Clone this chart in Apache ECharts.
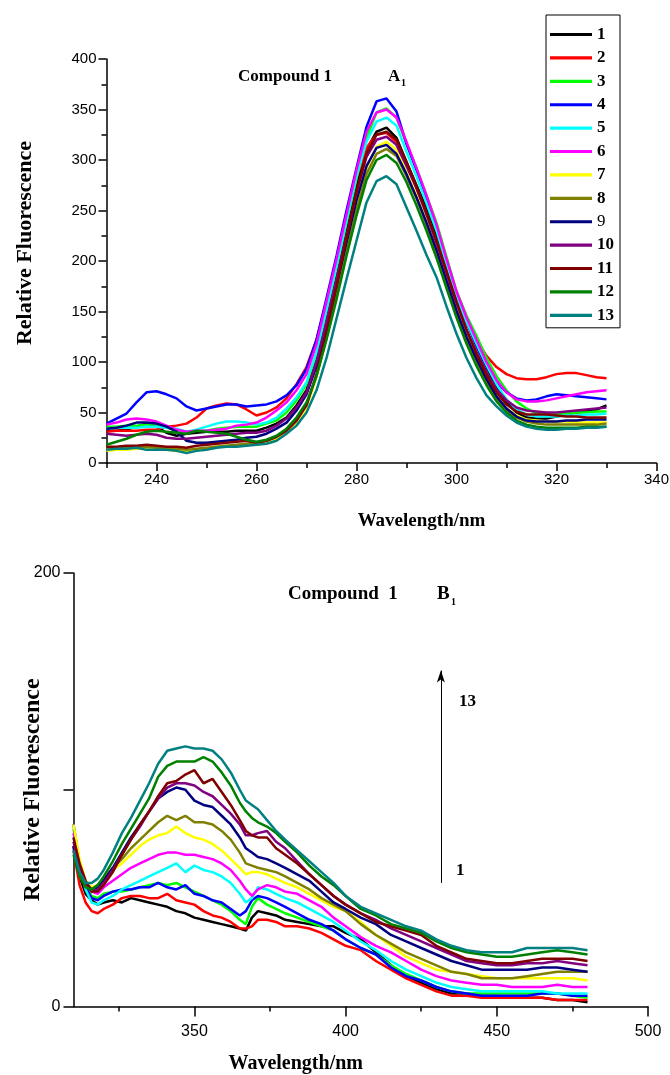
<!DOCTYPE html>
<html>
<head>
<meta charset="utf-8">
<script src="https://cdn.jsdelivr.net/npm/echarts@6/dist/echarts.min.js"></script>
<style>
html,body{margin:0;padding:0;background:#fff}
#main{width:670px;height:1075px}
</style>
</head>
<body>
<div id="main"></div>
<script>
// panel A: wavelength grid (nm) and 13 spectra
var waveA = [230,232,234,236,238,240,242,244,246,248,250,252,254,256,258,260,
  262,264,266,268,270,272,274,276,278,280,282,284,286,288,290,292,294,296,298,300,
  302,304,306,308,310,312,314,316,318,320,322,324,326,328,330];
var a1 = [32,32,33,36,39,36,30,27,29,30,31,31,31,32,32,32,
  35,39,45,57,72,105,145,188,232,275,310,328,332,322,298,275,252,226,198,168,
  140,116,95,75,60,50,45,44,44,46,48,50,51,53,57];
var a2 = [31,32,32,32,33,33,36,37,39,45,54,57,59,58,53,47,
  50,55,64,78,95,122,160,200,242,282,312,325,327,318,297,272,247,220,192,165,
  142,122,106,95,88,84,83,83,85,88,89,89,87,85,84];
var a3 = [36,36,37,37,38,38,35,33,31,32,32,34,35,36,36,36,
  39,42,50,62,78,108,150,193,238,282,322,347,351,342,316,292,265,238,204,170,
  146,126,104,86,72,61,54,49,48,48,49,50,50,51,51];
var a4 = [39,44,49,60,70,71,68,64,56,52,54,56,58,58,56,57,
  58,61,67,77,93,122,163,205,250,292,333,358,361,348,316,290,262,232,200,168,
  140,116,96,80,70,64,62,63,66,68,67,66,65,64,63];
var a5 = [34,35,35,35,36,36,35,34,31,33,36,39,41,41,40,38,
  40,45,54,65,80,110,152,195,240,284,318,338,342,334,308,284,257,230,198,166,
  140,118,97,78,63,53,48,46,46,46,47,47,48,48,49];
var a6 = [38,40,43,44,43,41,37,33,31,32,32,33,34,37,38,40,
  45,52,60,72,88,118,160,202,246,290,328,347,350,342,318,292,265,236,202,170,
  144,122,100,82,70,63,61,61,62,64,66,68,70,71,72];
var a7 = [12,13,13,14,14,13,13,12,12,13,14,16,17,17,18,18,
  20,24,31,40,55,85,125,168,212,255,292,313,318,310,288,265,240,213,183,153,
  126,103,82,66,54,47,43,42,41,41,41,40,40,40,40];
var a8 = [14,14,15,15,16,15,14,14,13,14,15,16,17,18,19,20,
  22,26,32,42,58,86,124,165,208,250,286,306,311,304,284,262,236,208,178,148,
  122,100,80,64,52,45,41,39,38,38,38,38,38,38,39];
var a9 = [34,35,37,40,40,39,36,31,22,20,20,21,22,23,25,26,
  29,34,40,52,68,96,134,175,218,260,294,312,315,306,286,263,238,211,181,151,
  125,103,83,66,54,46,42,41,41,41,42,42,43,43,43];
var a10 = [29,28,27,28,29,28,25,24,24,25,26,27,28,29,30,30,
  32,37,44,55,70,100,140,182,225,268,303,320,323,315,294,272,246,218,188,158,
  132,110,90,73,62,55,52,51,50,50,51,52,53,54,55];
var a11 = [16,16,17,17,18,17,16,16,15,17,18,19,20,21,22,20,
  22,26,32,42,57,88,130,175,222,268,306,325,328,320,298,274,248,220,190,160,
  132,108,87,70,58,51,48,48,48,47,46,46,45,45,45];
var a12 = [18,21,24,28,31,32,31,30,29,32,31,30,29,26,23,21,
  23,27,34,45,60,86,122,162,205,245,280,300,305,297,278,255,230,203,173,144,
  118,96,77,61,50,42,38,36,35,35,35,35,36,36,36];
var a13 = [13,14,14,15,13,13,13,12,10,12,13,15,16,16,17,18,
  19,22,29,37,50,72,104,143,182,220,258,279,284,276,253,230,206,184,155,128,
  104,84,67,56,47,40,36,34,33,33,34,34,35,35,36];

// panel B: wavelength grid (nm) and 13 spectra
var waveB = [310,312,314,316,318,320,
  323,326,329,332,335,338,341,344,347,350,353,356,359,362,
  365,367,369,371,374,377,380,384,388,392,396,400,
  405,410,415,420,425,430,435,440,445,450,455,460,465,470,475,480];
var b1 = [74,60,52,49,47,48, 49,48,50,49,48,47,46,44,43,41,40,39,38,37,
  36,35,41,44,43,42,40,39,38,37,37,34,
  31,25,19,14,11,8,6,6,5,5,4,4,4,3,3,2];
var b2 = [72,56,48,44,43,45, 47,50,51,51,50,50,52,49,48,47,44,42,41,39,
  36,36,37,40,40,39,37,37,36,34,31,28,
  26,21,17,13,10,7,5,5,4,4,4,4,4,3,3,3];
var b3 = [82,66,56,51,50,52, 53,53,54,55,56,57,56,57,55,53,51,49,47,44,
  40,38,46,50,47,45,43,41,39,37,35,31,
  27,24,19,15,12,9,7,6,6,6,6,6,6,6,5,4];
var b4 = [84,66,55,50,49,51, 53,54,54,55,55,57,55,54,56,52,51,49,48,45,
  42,44,49,51,50,48,46,43,40,38,35,31,
  27,24,18,14,12,9,7,6,5,5,5,5,6,6,5,5];
var b5 = [78,64,54,48,47,49, 51,54,56,58,60,62,64,66,62,65,63,62,60,57,
  52,48,50,55,54,52,50,48,45,42,39,35,
  30,26,21,17,14,11,9,8,7,7,7,7,7,6,6,6];
var b6 = [80,66,57,53,52,55, 58,61,64,66,68,70,71,71,70,70,69,68,66,63,
  58,54,51,54,56,55,53,52,49,46,41,37,
  32,28,25,21,17,14,12,11,10,10,9,9,9,10,9,9];
var b7 = [84,68,58,55,56,59, 63,66,70,74,77,79,80,83,80,78,77,75,72,68,
  64,61,62,62,61,59,57,55,52,49,46,44,
  39,33,28,23,20,17,16,15,14,13,13,13,13,13,13,12];
var b8 = [73,62,56,54,56,59, 64,68,73,77,81,85,88,86,88,85,85,84,81,77,
  71,66,65,64,63,62,60,57,54,50,47,44,
  38,33,29,25,22,19,16,15,13,13,13,14,15,16,16,16];
var b9 = [74,63,57,54,55,58, 64,71,78,84,90,96,99,101,100,95,93,92,88,84,
  78,73,71,69,68,66,64,61,58,53,48,45,
  41,38,33,30,27,24,21,19,17,17,17,17,18,18,17,16];
var b10 = [76,64,57,53,54,57, 63,70,77,83,90,96,101,103,103,102,99,97,93,89,
  84,79,79,80,81,76,73,67,61,56,51,47,
  43,40,36,33,30,27,24,21,20,19,19,20,20,21,20,19];
var b11 = [78,66,58,53,53,56, 62,70,77,84,90,97,103,104,107,109,103,105,99,93,
  86,81,79,78,78,73,70,66,61,56,51,47,
  43,39,37,35,33,28,25,22,21,20,20,21,22,22,22,21];
var b12 = [70,60,55,54,56,60, 67,75,82,89,96,106,111,113,113,113,115,113,108,102,
  94,90,87,85,83,80,76,71,65,60,56,51,
  45,42,38,36,34,30,27,25,24,23,23,24,25,26,25,24];
var b13 = [72,62,57,57,59,63, 71,80,87,95,103,112,118,119,120,119,119,118,114,108,
  100,95,93,91,86,81,77,72,67,62,57,51,
  46,43,40,37,35,31,28,26,25,25,25,27,27,27,27,26];

var seriesNames = ['1','2','3','4','5','6','7','8','9','10','11','12','13'];
var spectraA = [a1,a2,a3,a4,a5,a6,a7,a8,a9,a10,a11,a12,a13];
var spectraB = [b1,b2,b3,b4,b5,b6,b7,b8,b9,b10,b11,b12,b13];

// tick values
var ticksAMinor = [230,250,270,290,310,330];
var ticksAMajor = [240,260,280,300,320,340];
var ticksBMinor = [325,375,425,475];
var ticksBMajor = [350,400,450,500];
var ticksBYLabel = [0,200];

// arrow in panel B (data units)
var arrowX = 431.5, arrowFrom = 57, arrowTo = 155;

var colors = ['#000000','#ff0000','#00ff00','#0000ff','#00ffff','#ff00ff','#ffff00',
  '#808000','#000080','#800080','#800000','#008000','#008080'];
var serif = '"Liberation Serif","Times New Roman",serif';
var sans = '"Liberation Sans",Arial,sans-serif';
var axisColor = '#000';

function pairs(xs, ys) {
  return xs.map(function (x, i) { return [x, ys[i]]; });
}

var series = [];
for (var i = 0; i < seriesNames.length; i++) {
  series.push({
    name: seriesNames[i], type: 'line', xAxisIndex: 0, yAxisIndex: 0,
    data: pairs(waveA, spectraA[i]), symbol: 'none', silent: true,
    lineStyle: {width: 2.5, color: colors[i]}, itemStyle: {color: colors[i]}
  });
}
for (var j = 0; j < seriesNames.length; j++) {
  series.push({
    name: seriesNames[j], type: 'line', xAxisIndex: 2, yAxisIndex: 1,
    data: pairs(waveB, spectraB[j]), symbol: 'none', silent: true,
    lineStyle: {width: 2.5, color: colors[j]}, itemStyle: {color: colors[j]}
  });
}
// the arrow "1 -> 13"
series[series.length - 1].markLine = {
  silent: true, symbol: ['none', 'arrow'], symbolSize: [6, 12],
  label: {show: false},
  lineStyle: {color: '#000', width: 1, type: 'solid'},
  data: [[{coord: [arrowX, arrowFrom]}, {coord: [arrowX, arrowTo]}]]
};

var lineSt = {color: axisColor, width: 1.5};
var nameSt = {fontFamily: serif, fontWeight: 'bold', color: '#000'};

var chart = echarts.init(document.getElementById('main'), null, {renderer: 'canvas'});
chart.setOption({
  animation: false,
  backgroundColor: '#fff',
  grid: [
    {left: 106.5, top: 59, width: 550, height: 404, outerBoundsMode: 'none'},
    {left: 73.5, top: 573, width: 574.5, height: 433.5, outerBoundsMode: 'none'}
  ],
  xAxis: [
    {gridIndex: 0, type: 'value', min: 230, max: 340, position: 'bottom',
      axisLine: {onZero: false, lineStyle: lineSt},
      axisTick: {customValues: ticksAMinor, length: 5, lineStyle: lineSt},
      axisLabel: {show: false}, splitLine: {show: false}},
    {gridIndex: 0, type: 'value', min: 230, max: 340, position: 'bottom',
      axisLine: {show: false, onZero: false},
      axisTick: {customValues: ticksAMajor, length: 8, lineStyle: lineSt},
      axisLabel: {customValues: ticksAMajor, margin: 9, fontSize: 15, fontFamily: sans, color: '#000'},
      splitLine: {show: false},
      name: 'Wavelength/nm', nameLocation: 'middle', nameGap: 49,
      nameTextStyle: Object.assign({fontSize: 19, padding: [0, 0, 0, 80]}, nameSt)},
    {gridIndex: 1, type: 'value', min: 310, max: 500, position: 'bottom',
      axisLine: {onZero: false, lineStyle: lineSt},
      axisTick: {customValues: ticksBMinor, length: 5, lineStyle: lineSt},
      axisLabel: {show: false}, splitLine: {show: false}},
    {gridIndex: 1, type: 'value', min: 310, max: 500, position: 'bottom',
      axisLine: {show: false, onZero: false},
      axisTick: {customValues: ticksBMajor, length: 10, lineStyle: lineSt},
      axisLabel: {customValues: ticksBMajor, margin: 17, fontSize: 16, fontFamily: sans, color: '#000'},
      splitLine: {show: false},
      name: 'Wavelength/nm', nameLocation: 'middle', nameGap: 47,
      nameTextStyle: Object.assign({fontSize: 20, padding: [0, 130, 0, 0]}, nameSt)}
  ],
  yAxis: [
    {gridIndex: 0, type: 'value', min: 0, max: 400, interval: 50,
      axisLine: {show: true, onZero: false, lineStyle: lineSt},
      axisTick: {show: true, length: 8, lineStyle: lineSt},
      minorTick: {show: true, splitNumber: 2, length: 5, lineStyle: lineSt},
      axisLabel: {margin: 10, fontSize: 15, fontFamily: sans, color: '#000'},
      splitLine: {show: false},
      name: 'Relative Fluorescence', nameLocation: 'middle', nameGap: 70,
      nameTextStyle: Object.assign({fontSize: 22, padding: [0, 0, 0, 36]}, nameSt)},
    {gridIndex: 1, type: 'value', min: 0, max: 200, interval: 100,
      axisLine: {show: true, onZero: false, lineStyle: lineSt},
      axisTick: {show: true, length: 10, lineStyle: lineSt},
      axisLabel: {customValues: ticksBYLabel, margin: 13, fontSize: 16, fontFamily: sans, color: '#000'},
      splitLine: {show: false},
      name: 'Relative Fluorescence', nameLocation: 'middle', nameGap: 29,
      nameMoveOverlap: false,
      nameTextStyle: Object.assign({fontSize: 24}, nameSt)}
  ],
  legend: {
    data: seriesNames, orient: 'vertical', left: 546, top: 15,
    padding: [11, 6, 4, 4], itemGap: 6.4, itemWidth: 42, itemHeight: 16,
    borderColor: '#000', borderWidth: 1, backgroundColor: '#fff',
    selectedMode: false,
    icon: 'path://M0,0H40V3H0Z',
    formatter: function (n) { return n === '9' ? '{n|9}' : '{b|' + n + '}'; },
    textStyle: {
      rich: {
        b: {fontFamily: serif, fontWeight: 'bold', fontSize: 17, lineHeight: 16, color: '#000'},
        n: {fontFamily: serif, fontSize: 17, lineHeight: 16, color: '#000'}
      }
    }
  },
  graphic: [
    {type: 'text', left: 238, top: 68, style: {text: 'Compound 1', font: 'bold 17px ' + serif, fill: '#000'}},
    {type: 'text', left: 388, top: 68, style: {text: 'A', font: 'bold 17px ' + serif, fill: '#000'}},
    {type: 'text', left: 401, top: 78, style: {text: '1', font: 'bold 10px ' + serif, fill: '#000'}},
    {type: 'text', left: 288, top: 585, style: {text: 'Compound  1', font: 'bold 19px ' + serif, fill: '#000'}},
    {type: 'text', left: 437, top: 585, style: {text: 'B', font: 'bold 19px ' + serif, fill: '#000'}},
    {type: 'text', left: 451, top: 597, style: {text: '1', font: 'bold 10px ' + serif, fill: '#000'}},
    {type: 'text', left: 459, top: 693, style: {text: '13', font: 'bold 17px ' + serif, fill: '#000'}},
    {type: 'text', left: 456, top: 862, style: {text: '1', font: 'bold 17px ' + serif, fill: '#000'}}
  ],
  series: series
});
</script>
</body>
</html>
